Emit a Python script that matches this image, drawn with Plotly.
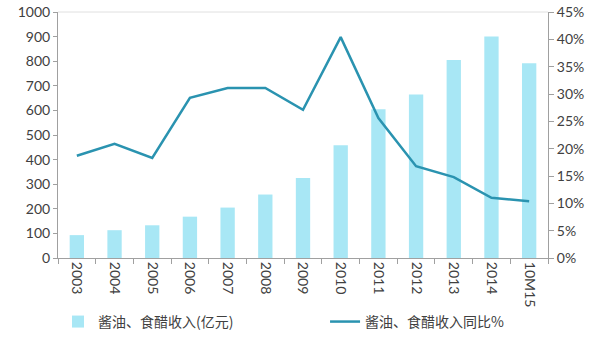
import plotly.graph_objects as go

categories = ["2003", "2004", "2005", "2006", "2007", "2008", "2009", "2010", "2011", "2012", "2013", "2014", "10M15"]
revenue = [93, 113, 133, 168, 205, 258, 325, 458, 605, 665, 805, 900, 792]
yoy = [18.7, 20.9, 18.3, 29.3, 31.1, 31.1, 27.1, 40.4, 25.6, 16.8, 14.8, 11.0, 10.4]

left_ticks = list(range(0, 1001, 100))
right_ticks = list(range(0, 46, 5))

fig = go.Figure()
fig.add_trace(go.Bar(x=categories, y=revenue, name="酱油、食醋收入(亿元)", legend="legend",
                     marker=dict(color="#A8E7F5", line=dict(width=0)), width=0.38))
fig.add_trace(go.Scatter(x=categories, y=yoy, name="酱油、食醋收入同比%", yaxis="y2", legend="legend2",
                         mode="lines", line=dict(color="#2A93B0", width=2.5)))

axis_font = dict(family="Lato, Noto Sans CJK SC, sans-serif", size=14, color="#404040")
leg_font = dict(family="Noto Sans CJK SC, sans-serif", size=14, color="#404040")
fig.update_layout(
    width=600, height=340,
    margin=dict(l=58, r=52, t=12, b=82, autoexpand=False),
    paper_bgcolor="white", plot_bgcolor="white",
    showlegend=True,
    legend=dict(orientation="h", x=0.0, y=-0.26, xanchor="left", yanchor="middle",
                font=leg_font, itemwidth=30),
    legend2=dict(orientation="h", x=0.545, y=-0.26, xanchor="left", yanchor="middle",
                 font=leg_font, itemwidth=30),
    xaxis=dict(type="category", tickangle=90, tickfont=axis_font, automargin=False,
               showline=True, linecolor="#A0A0A0", linewidth=1,
               ticks="outside", ticklen=5, tickcolor="#A0A0A0", tickson="boundaries",
               showgrid=False, mirror=False),
    yaxis=dict(range=[0, 1000], tickvals=left_ticks, tickfont=axis_font, automargin=False,
               showline=True, linecolor="#A0A0A0", linewidth=1,
               ticks="outside", ticklen=4, tickcolor="#A0A0A0",
               showgrid=False, zeroline=False),
    yaxis2=dict(range=[0, 45], tickvals=right_ticks, ticktext=[f"{v}%" for v in right_ticks],
                overlaying="y", side="right", tickfont=axis_font, automargin=False,
                showline=True, linecolor="#A0A0A0", linewidth=1,
                ticks="outside", ticklen=5, tickcolor="#A0A0A0",
                showgrid=False, zeroline=False),
    shapes=[dict(type="line", xref="paper", yref="paper", x0=0, x1=1, y0=1, y1=1,
                 line=dict(color="#E0E0E0", width=1))],
)

fig.write_html("out.html")
